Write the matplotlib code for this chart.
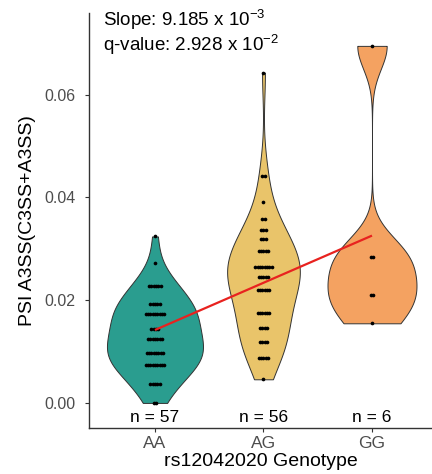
import numpy as np
import matplotlib
matplotlib.use("Agg")
import matplotlib.pyplot as plt

# ---------------- data ----------------
genotypes = ["AA", "AG", "GG"]

aa_levels = [0.0324, 0.0273, 0.0228, 0.0193, 0.0173, 0.0144, 0.0124, 0.0098, 0.0074, 0.0036, 0.0000]
aa_counts = [1, 1, 6, 5, 9, 4, 7, 8, 9, 5, 2]

ag_levels = [0.0643, 0.0441, 0.0391, 0.0358, 0.0337, 0.0319, 0.0295, 0.0265, 0.0245,
             0.0220, 0.0176, 0.0145, 0.0118, 0.0088, 0.0046]
ag_counts = [1, 2, 1, 2, 3, 3, 5, 8, 5, 6, 6, 4, 4, 5, 1]

gg_levels = [0.0695, 0.0284, 0.0211, 0.0155]
gg_counts = [1, 2, 2, 1]

slope = 9.185e-3
intercept = 0.0142
slope_text = ("9.185", "-3")
qval_text = ("2.928", "-2")

# ---------------- style ----------------
colors = ["#2A9D8F", "#E9C46A", "#F4A261"]
violin_widths = [0.885, 0.67, 0.82]
bw_adjust = 1.3
dot_step = 0.0215
outline = "#333333"

plt.rcParams["font.family"] = ["Liberation Sans", "DejaVu Sans"]
plt.rcParams["mathtext.fontset"] = "custom"
plt.rcParams["mathtext.rm"] = "Liberation Sans"
plt.rcParams["mathtext.it"] = "Liberation Sans:italic"
plt.rcParams["mathtext.bf"] = "Liberation Sans:bold"

fig = plt.figure(figsize=(4.32, 4.74), dpi=100)
ax = fig.add_axes([89 / 432, 1 - 428 / 474, (432 - 89) / 432, (428 - 13) / 474])


def nrd0(x):
    x = np.asarray(x, float)
    sd = np.std(x, ddof=1)
    q75, q25 = np.percentile(x, [75, 25])
    lo = min(sd, (q75 - q25) / 1.34)
    if lo <= 0:
        lo = sd
    return 0.9 * lo * len(x) ** (-0.2)


groups = [(aa_levels, aa_counts), (ag_levels, ag_counts), (gg_levels, gg_counts)]
for i, (levels, counts) in enumerate(groups):
    pos = i + 1
    vals = np.repeat(levels, counts)
    bw = nrd0(vals) * bw_adjust
    grid = np.linspace(vals.min(), vals.max(), 512)
    dens = np.exp(-0.5 * ((grid[:, None] - vals[None, :]) / bw) ** 2).sum(axis=1)
    half = dens / dens.max() * violin_widths[i] / 2
    ax.fill_betweenx(grid, pos - half, pos + half, facecolor=colors[i],
                     edgecolor=outline, linewidth=0.7, zorder=2)
    for lev, c in zip(levels, counts):
        offs = (np.arange(c) - (c - 1) / 2) * dot_step
        ax.scatter(pos + offs, np.full(c, lev), s=7, color="black",
                   linewidths=0, zorder=3)
    ax.text(pos, -0.0029, f"n = {int(np.sum(counts))}", ha="center", va="center",
            fontsize=12.5, color="black", zorder=4)

# regression line
xl = np.array([1, 3])
ax.plot(xl, intercept + slope * (xl - 1), color="#E8221F", lw=1.6, zorder=4,
        solid_capstyle="butt")

ax.text(0.041, 0.968, f"Slope: {slope_text[0]} x 10$^{{{slope_text[1]}}}$",
        transform=ax.transAxes, ha="left", va="baseline", fontsize=13.5)
ax.text(0.041, 0.908, f"q-value: {qval_text[0]} x 10$^{{{qval_text[1]}}}$",
        transform=ax.transAxes, ha="left", va="baseline", fontsize=13.5)

ax.set_xlim(0.392, 3.553)
ax.set_ylim(-0.00488, 0.0759)
ax.set_xticks([1, 2, 3])
ax.set_xticklabels(genotypes)
ax.set_yticks([0.00, 0.02, 0.04, 0.06])
ax.set_yticklabels(["0.00", "0.02", "0.04", "0.06"])

for s in ["top", "right"]:
    ax.spines[s].set_visible(False)
for s in ["left", "bottom"]:
    ax.spines[s].set_color(outline)
    ax.spines[s].set_linewidth(1.0)

ax.tick_params(axis="y", length=3, width=0.8, color=outline, labelcolor="#4D4D4D",
               labelsize=11.5, pad=6.5)
ax.tick_params(axis="x", length=3, width=0.8, color=outline, labelcolor="#4D4D4D",
               labelsize=12.5, pad=2.5)

ax.set_xlabel("rs12042020 Genotype", fontsize=14, labelpad=2)
ax.set_ylabel("PSI A3SS(C3SS+A3SS)", fontsize=14, labelpad=6)

fig.savefig("out.png", dpi=100)
